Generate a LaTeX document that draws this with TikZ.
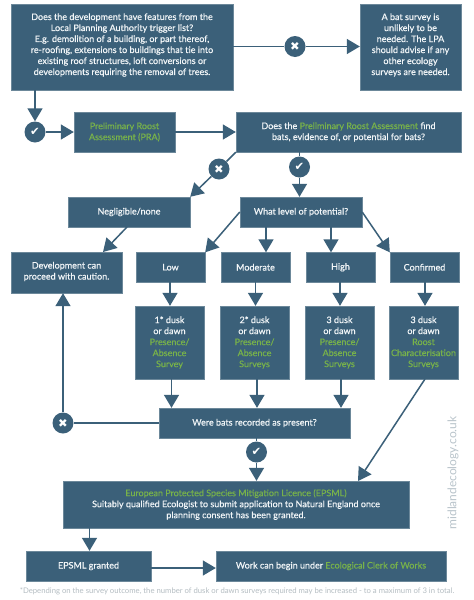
\documentclass[tikz,border=0pt]{standalone}
\usepackage{fontspec}
\setmainfont{Lato}
\newfontfamily\symfont{DejaVu Sans}
\newfontfamily\boxfont{Lato}[AutoFakeBold=0.5]
\usetikzlibrary{arrows.meta}
\definecolor{boxc}{HTML}{3B6079}
\definecolor{grn}{HTML}{78B24A}
\definecolor{txt}{HTML}{F2F6F8}
\definecolor{foot}{HTML}{B4BDC2}
\definecolor{mark}{HTML}{B9C4CB}
\newcommand{\gr}[1]{\textcolor{grn}{#1}}
\tikzset{
  x=1pt,y=-1pt,
  flowtext/.style={text=txt,align=center,inner sep=0pt,font=\boxfont\bfseries\fontsize{9}{11}\selectfont},
  flowbox/.style={flowtext,fill=boxc,draw=boxc!75!white,line width=0.4pt},
  badge/.style={circle,fill=boxc,minimum size=21pt,inner sep=0pt,text=white,font=\symfont\fontsize{11.5}{12}\selectfont},
  link/.style={draw=boxc,line width=1.5pt},
  arrowlink/.style={link,-{Triangle[length=13pt,width=15pt]}},
}
\newcommand{\bx}[6]{\node[flowbox,minimum width=#4 pt - #2 pt,minimum height=#5 pt - #3 pt] (#1) at ({(#2+#4)/2},{(#3+#5)/2}) {#6};}
\newcommand{\bxup}[7]{\node[flowbox,minimum width=#4 pt - #2 pt,minimum height=#5 pt - #3 pt,label={[flowtext,yshift=#7 pt]center:{#6}}] (#1) at ({(#2+#4)/2},{(#3+#5)/2}) {};}
\begin{document}
\begin{tikzpicture}
\useasboundingbox (0,0) rectangle (474,600);
\fill[white] (0,0) rectangle (474,600);
\bxup{A}{11}{4}{233}{90}{Does the development have features from the\\Local Planning Authority trigger list?\\E.g. demolition of a building, or part thereof,\\re-roofing, extensions to buildings that tie into\\existing roof structures, loft conversions or\\developments requiring the removal of trees.}{2}
\bxup{B}{360}{4}{461}{90}{A bat survey is\\unlikely to be\\needed. The LPA\\should advise if any\\other ecology\\surveys are needed.}{2}
\bx{C}{74}{112}{175}{152}{\gr{Preliminary Roost}\\\gr{Assessment (PRA)}}
\bx{D}{236}{112}{461}{152}{Does the \gr{Preliminary Roost Assessment} find\\bats, evidence of, or potential for bats?}
\bx{E}{68}{197}{190}{227}{Negligible/none}
\bx{F}{240}{197}{362}{227}{What level of potential?}
\bxup{G}{11}{252}{122}{293}{Development can\\proceed with caution.}{1}
\bx{L1}{136}{252.5}{205}{282}{Low}
\bx{L2}{221}{252.5}{290}{282}{Moderate}
\bx{L3}{306}{252.5}{375}{282}{High}
\bx{L4}{390}{252.5}{459}{282}{Confirmed}
\bx{S1}{135}{306}{204}{379}{1* dusk\\or dawn\\\gr{Presence/}\\\gr{Absence}\\\gr{Survey}}
\bx{S2}{220}{306}{289}{379}{2* dusk\\or dawn\\\gr{Presence/}\\\gr{Absence}\\\gr{Surveys}}
\bx{S3}{305}{306}{374}{379}{3 dusk\\or dawn\\\gr{Presence/}\\\gr{Absence}\\\gr{Surveys}}
\bx{S4}{389}{306}{458}{379}{3 dusk\\or dawn\\\gr{Roost}\\\gr{Characterisation}\\\gr{Surveys}}
\bx{W}{159}{408}{350}{438}{Were bats recorded as present?}
\bx{P}{63}{481}{409}{528}{\gr{European Protected Species Mitigation Licence (EPSML)}\\Suitably qualified Ecologist to submit application to Natural England once\\planning consent has been granted.}
\bx{Q}{26}{551}{151}{581}{EPSML granted}
\bx{R}{216}{551}{446}{581}{Work can begin under \gr{Ecological Clerk of Works}}
\node[badge] (b1) at (295,46.5) {✖};
\node[badge] (b2) at (35,132) {✔};
\node[badge] (b3) at (219,169) {✖};
\node[badge] (b4) at (299.5,167) {✔};
\node[badge] (b5) at (63,423) {✖};
\node[badge] (b6) at (256.5,452) {✔};
\coordinate (xa) at (35,0);
\coordinate (xe) at (127,227);
\coordinate (xg) at (103,252);
\coordinate (xm) at (266,0);
\coordinate (xh) at (331,0);
\coordinate (x1) at (170,0);
\coordinate (x2) at (255.5,0);
\coordinate (x3) at (340,0);
\coordinate (x4) at (425,0);
\coordinate (y1) at (171.5,0);
\coordinate (y2) at (257,0);
\coordinate (y3) at (341,0);
\coordinate (s4) at (425,379);
\coordinate (p4) at (358,481);
\coordinate (xq) at (89.5,0);
\coordinate (yq) at (0,568);
\draw[link] (A.east |- b1) -- (b1);
\draw[arrowlink] (b1) -- (B.west |- b1);
\draw[arrowlink] (xa |- A.south) -- (b2.north);
\draw[arrowlink] (b2) -- (C.west |- b2);
\draw[arrowlink] (C.east) -- (D.west);
\draw[link] (D.south west) -- (b3);
\draw[arrowlink] (b3) -- (E.north east);
\draw[link] (b4 |- D.south) -- (b4);
\draw[arrowlink] (b4) -- (b4 |- F.north);
\draw[arrowlink] (xe) -- (xg);
\draw[arrowlink] (F.west) -- (L1.north east);
\draw[arrowlink] (xm |- F.south) -- (xm |- L2.north);
\draw[arrowlink] (xh |- F.south) -- (xh |- L3.north);
\draw[arrowlink] (F.east) -- (L4.north west);
\draw[arrowlink] (x1 |- L1.south) -- (x1 |- S1.north);
\draw[arrowlink] (x2 |- L2.south) -- (x2 |- S2.north);
\draw[arrowlink] (x3 |- L3.south) -- (x3 |- S3.north);
\draw[arrowlink] (x4 |- L4.south) -- (x4 |- S4.north);
\draw[arrowlink] (y1 |- S1.south) -- (y1 |- W.north);
\draw[arrowlink] (y2 |- S2.south) -- (y2 |- W.north);
\draw[arrowlink] (y3 |- S3.south) -- (y3 |- W.north);
\draw[arrowlink] (s4) -- (p4);
\draw[link] (W.west) -- (b5);
\draw[arrowlink] (b5) -- (b5 |- G.south);
\draw[link] (b6 |- W.south) -- (b6);
\draw[arrowlink] (b6) -- (b6 |- P.north);
\draw[arrowlink] (xq |- P.south) -- (xq |- Q.north);
\draw[arrowlink] (Q.east |- yq) -- (R.west |- yq);
\node[text=foot,inner sep=0pt,font=\fontsize{7.7}{8}\selectfont] (fn) at (237,591) {*Depending on the survey outcome, the number of dusk or dawn surveys required may be increased - to a maximum of 3 in total.};
\node[text=mark,rotate=90,inner sep=0pt,font=\fontsize{12}{14}\selectfont] (wm) at (453,473) {midlandecology.co.uk};
\end{tikzpicture}
\end{document}
